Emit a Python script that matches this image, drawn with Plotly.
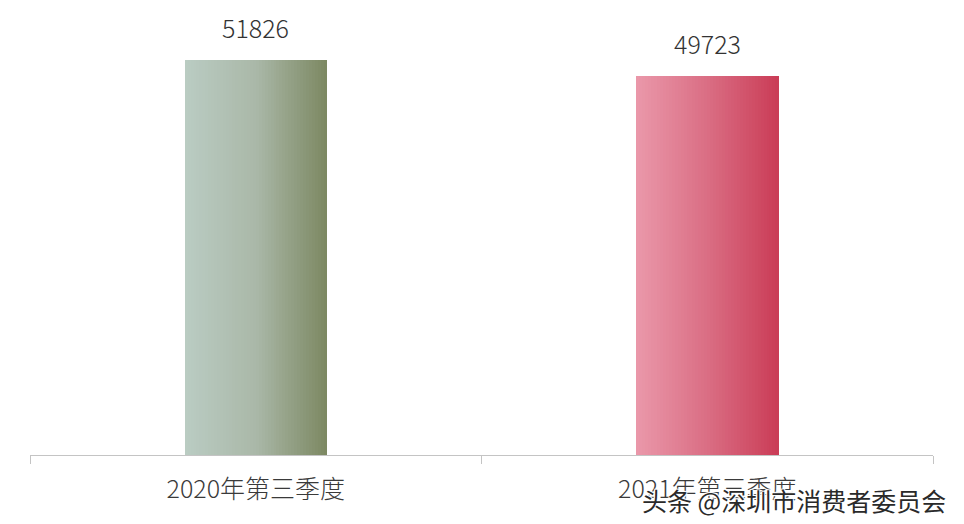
import plotly.graph_objects as go

categories = ["2020年第三季度", "2021年第三季度"]
values = [51826, 49723]
value_labels = ["51826", "49723"]
# gradient end colours (left -> right) per bar
left_colors = [(186, 204, 195), (234, 152, 170)]
mid_colors = [(170, 184, 168), (218, 110, 132)]
right_colors = [(124, 136, 98), (202, 60, 86)]
watermark = "头条 @深圳市消费者委员会"

FONT = "Noto Sans CJK SC"
N = 48
bar_w = 0.315


def lerp(a, b, t):
    return tuple(int(round(a[k] + (b[k] - a[k]) * t)) for k in range(3))


def grad(i, t):
    if t < 0.5:
        c = lerp(left_colors[i], mid_colors[i], t / 0.5)
    else:
        c = lerp(mid_colors[i], right_colors[i], (t - 0.5) / 0.5)
    return "rgb(%d,%d,%d)" % c


fig = go.Figure()
step = bar_w / N
for s in range(N):
    t = (s + 0.5) / N
    fig.add_trace(go.Bar(
        x=categories, y=values,
        width=[step * 1.15] * len(categories),
        offset=[-bar_w / 2 + s * step] * len(categories),
        marker=dict(color=[grad(i, t) for i in range(len(categories))], line=dict(width=0)),
        showlegend=False, hoverinfo="skip",
    ))

for c, v, lab in zip(categories, values, value_labels):
    fig.add_annotation(x=c, y=v, text=lab, showarrow=False, yanchor="bottom",
                       yshift=13, font=dict(family=FONT, size=25, color="#333333", weight=300))

fig.add_annotation(xref="paper", yref="paper", x=1.0166, y=-0.103, xanchor="right", yanchor="middle",
                   text=watermark, showarrow=False,
                   font=dict(family=FONT, size=25, color="#2a2a2a",
                             shadow="1px 1px 1px #ffffff, -1px -1px 1px #ffffff, 1px -1px 1px #ffffff, -1px 1px 1px #ffffff"))

fig.update_layout(
    width=964, height=524,
    margin=dict(l=22, r=39, t=12, b=77),
    paper_bgcolor="#ffffff", plot_bgcolor="#ffffff",
    barmode="overlay", bargap=0,
    xaxis=dict(showline=True, linecolor="#c4c4c4", linewidth=1,
               ticks="outside", tickson="boundaries", ticklen=8, tickcolor="#c4c4c4",
               tickfont=dict(family=FONT, size=25, color="#3a3a3a", weight=300),
               ticklabelstandoff=12, showgrid=False, zeroline=False,
               range=[-0.5, 1.5]),
    yaxis=dict(visible=False, range=[0, 57074], showgrid=False),
)

fig.write_html("out.html")
